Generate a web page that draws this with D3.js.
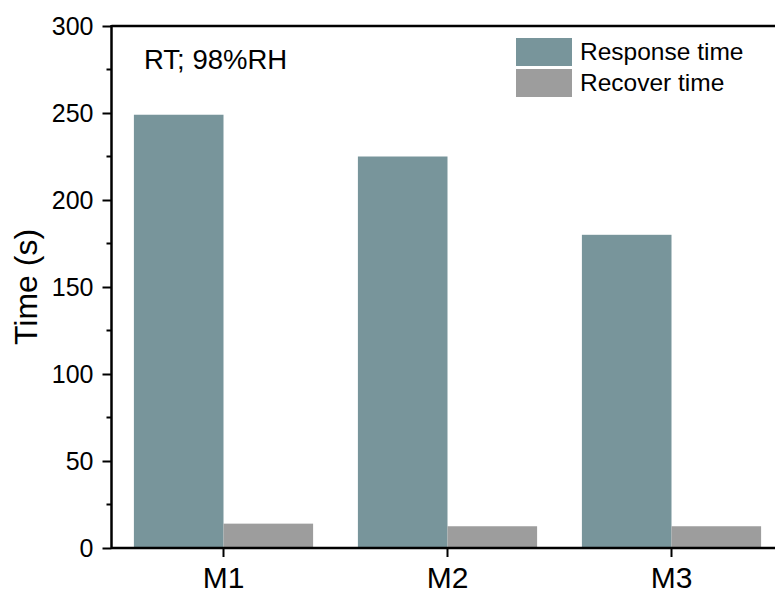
<!DOCTYPE html>
<html>
<head>
<meta charset="utf-8">
<script src="https://cdn.jsdelivr.net/npm/d3@7"></script>
<style>
body { margin: 0; background: #fff; }
svg { font-family: Arial, "Liberation Sans", sans-serif; }
</style>
</head>
<body>
<svg width="775" height="595"></svg>
<script>
var categories = ["M1", "M2", "M3"];
var seriesNames = ["Response time", "Recover time"];
var responseTime = [249, 225, 180];
var recoverTime = [14, 12.5, 12.5];
var yTicks = [0, 50, 100, 150, 200, 250, 300];
var colors = ["#78959b", "#9d9d9d"];

var svg = d3.select("svg");
var plotLeft = 111.5, plotTop = 26, plotBottom = 548, step = 224;

var y = d3.scaleLinear().domain([0, 300]).range([plotBottom, plotTop]);
// the frame goes on past the right edge of the picture
var x = d3.scaleBand().domain(categories).range([plotLeft, plotLeft + 3 * step]).paddingInner(0.2).paddingOuter(0.1);
var xs = d3.scaleBand().domain(seriesNames).range([0, x.bandwidth()]);

var data = categories.map(function(c, i) {
  return { cat: c, vals: [responseTime[i], recoverTime[i]] };
});

var g = svg.append("g");
g.selectAll("g.grp")
  .data(data)
  .enter().append("g")
  .attr("transform", function(d) { return "translate(" + x(d.cat) + ",0)"; })
  .selectAll("rect")
  .data(function(d) { return d.vals.map(function(v, i) { return { name: seriesNames[i], v: v, i: i }; }); })
  .enter().append("rect")
  .attr("x", function(d) { return xs(d.name); })
  .attr("width", xs.bandwidth())
  .attr("y", function(d) { return y(d.v); })
  .attr("height", function(d) { return y(0) - y(d.v); })
  .attr("fill", function(d) { return colors[d.i]; });

// y axis
var yAxis = svg.append("g")
  .attr("transform", "translate(" + plotLeft + ",0)")
  .call(d3.axisLeft(y).tickValues(yTicks).tickSize(9).tickPadding(9));
yAxis.select(".domain").remove();
yAxis.attr("font-size", 25).attr("font-family", "Arial, 'Liberation Sans', sans-serif");
yAxis.selectAll("line").attr("stroke", "#000").attr("stroke-width", 2);
yAxis.selectAll("text").attr("fill", "#000");

// minor ticks
svg.append("g").selectAll("line")
  .data(d3.range(25, 300, 50))
  .enter().append("line")
  .attr("x1", plotLeft - 5).attr("x2", plotLeft)
  .attr("y1", function(d) { return y(d); }).attr("y2", function(d) { return y(d); })
  .attr("stroke", "#000").attr("stroke-width", 2);

// x axis
var xAxis = svg.append("g")
  .attr("transform", "translate(0," + plotBottom + ")")
  .call(d3.axisBottom(x).tickSize(9).tickPadding(10));
xAxis.select(".domain").remove();
xAxis.attr("font-size", 30).attr("font-family", "Arial, 'Liberation Sans', sans-serif");
xAxis.selectAll("line").attr("stroke", "#000").attr("stroke-width", 2);
xAxis.selectAll("text").attr("fill", "#000");

// frame lines
svg.append("line").attr("x1", plotLeft).attr("x2", 775).attr("y1", plotBottom).attr("y2", plotBottom).attr("stroke", "#000").attr("stroke-width", 2.5);
svg.append("line").attr("x1", plotLeft).attr("x2", 775).attr("y1", plotTop).attr("y2", plotTop).attr("stroke", "#000").attr("stroke-width", 2.5);
svg.append("line").attr("x1", plotLeft).attr("x2", plotLeft).attr("y1", plotTop - 1).attr("y2", plotBottom + 1).attr("stroke", "#000").attr("stroke-width", 2.5);

// y label
svg.append("text")
  .attr("transform", "translate(37," + ((plotTop + plotBottom) / 2) + ") rotate(-90)")
  .attr("text-anchor", "middle")
  .attr("font-size", 32)
  .text("Time (s)");

// annotation
svg.append("text").attr("x", 144).attr("y", 69).attr("font-size", 27.5).text("RT; 98%RH");

// legend
var leg = svg.append("g").attr("transform", "translate(516,38)");
seriesNames.forEach(function(n, i) {
  leg.append("rect").attr("x", 0).attr("y", i * 31).attr("width", 56).attr("height", 28).attr("fill", colors[i]);
  leg.append("text").attr("x", 64).attr("y", i * 31 + 21.5).attr("font-size", 24.5).text(n);
});
</script>
</body>
</html>
